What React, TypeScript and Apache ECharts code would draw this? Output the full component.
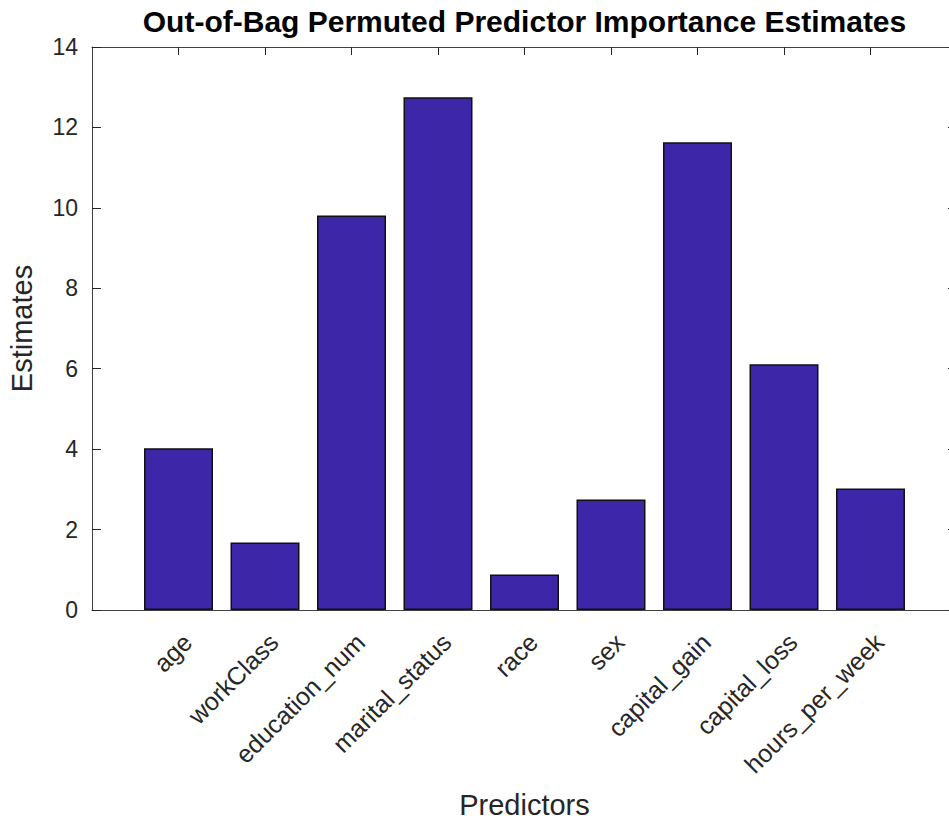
import React, { useEffect, useRef } from "react";
import * as echarts from "echarts";

const categories = [
  "age",
  "workClass",
  "education_num",
  "marital_status",
  "race",
  "sex",
  "capital_gain",
  "capital_loss",
  "hours_per_week",
];
const estimates = [4.02, 1.68, 9.81, 12.75, 0.88, 2.75, 11.63, 6.11, 3.02];
const yTicks = [0, 2, 4, 6, 8, 10, 12, 14];

const titleText = "Out-of-Bag Permuted Predictor Importance Estimates";
const xLabel = "Predictors";
const yLabel = "Estimates";

const FONT = "'Liberation Sans', Arial, Helvetica, sans-serif";
const AX = "#262626";

export default function App() {
  const ref = useRef<HTMLDivElement>(null);
  useEffect(() => {
    if (!ref.current) return;
    const chart = echarts.init(ref.current, undefined, { renderer: "svg" });
    const data = estimates.map((v, i) => [i + 1, v]);
    const axisLineStyle = { color: "#404040", width: 1 };
    const xCommon = {
      type: "value" as const,
      min: 0,
      max: categories.length + 1,
      interval: 1,
      splitLine: { show: false },
      axisLine: { show: true, onZero: false, lineStyle: axisLineStyle },
      axisTick: {
        show: true,
        inside: true,
        length: 8,
        lineStyle: { color: AX, width: 1 },
        customValues: categories.map((_, i) => i + 1),
      },
    };
    const yCommon = {
      type: "value" as const,
      min: yTicks[0],
      max: yTicks[yTicks.length - 1],
      interval: yTicks[1] - yTicks[0],
      splitLine: { show: false },
      axisLine: { show: true, onZero: false, lineStyle: axisLineStyle },
      axisTick: { show: true, inside: true, length: 9, lineStyle: { color: AX, width: 1 } },
    };
    chart.setOption({
      animation: false,
      backgroundColor: "#ffffff",
      textStyle: { fontFamily: FONT },
      grid: {
        left: 92,
        top: 47,
        width: 865,
        height: 563,
        containLabel: false,
        outerBoundsMode: "none",
      },
      xAxis: [
        {
          ...xCommon,
          position: "bottom",
          name: xLabel,
          nameLocation: "middle",
          nameGap: 180,
          nameTextStyle: { fontFamily: FONT, fontSize: 29, lineHeight: 29, color: AX },
          axisLabel: {
            show: true,
            rotate: 45,
            margin: 19,
            verticalAlign: "top",
            fontFamily: FONT,
            fontSize: 25,
            color: AX,
            customValues: categories.map((_, i) => i + 1),
            formatter: (v: number) => categories[Math.round(v) - 1] ?? "",
          },
        },
        {
          ...xCommon,
          position: "top",
          name: titleText,
          nameLocation: "middle",
          nameGap: 11,
          nameTextStyle: {
            fontFamily: FONT,
            fontSize: 30,
            fontWeight: "bold",
            color: "#000000",
            verticalAlign: "bottom",
          },
          axisLabel: { show: false },
        },
      ],
      yAxis: [
        {
          ...yCommon,
          position: "left",
          name: yLabel,
          nameLocation: "middle",
          nameRotate: 90,
          nameGap: 56,
          nameTextStyle: { fontFamily: FONT, fontSize: 29, color: AX },
          axisLabel: { show: true, margin: 14, fontFamily: FONT, fontSize: 23, color: AX },
        },
        {
          ...yCommon,
          position: "right",
          axisLabel: { show: false },
        },
      ],
      series: [
        {
          type: "bar",
          data,
          xAxisIndex: 0,
          yAxisIndex: 0,
          barWidth: 69,
          itemStyle: { color: "#3E26A8", borderColor: "#111111", borderWidth: 1.5 },
        },
      ],
    });
    return () => chart.dispose();
  }, []);
  return (
    <div
      ref={ref}
      style={{ position: "absolute", left: 0, top: 0, width: 949, height: 820 }}
    />
  );
}
